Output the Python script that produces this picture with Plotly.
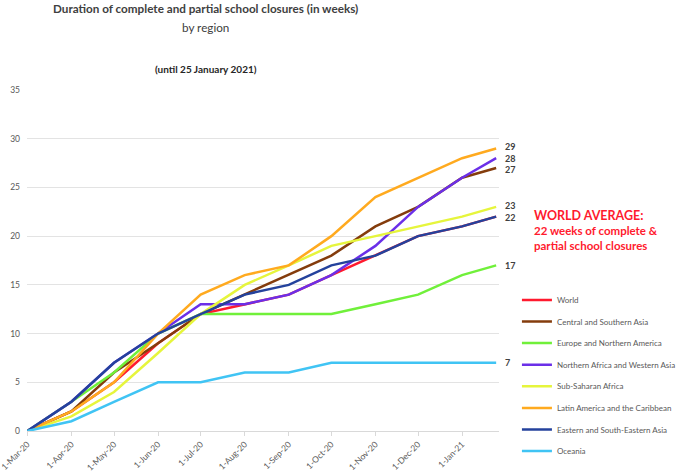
import plotly.graph_objects as go

dates = ['2020-03-01', '2020-04-01', '2020-05-01', '2020-06-01', '2020-07-01',
         '2020-08-01', '2020-09-01', '2020-10-01', '2020-11-01', '2020-12-01',
         '2021-01-01', '2021-01-25']

world = [0, 2, 5, 9, 12, 13, 14, 16, 18, 20, 21, 22]
central_southern_asia = [0, 2, 6, 9, 12, 14, 16, 18, 21, 23, 26, 27]
europe_northern_america = [0, 3, 6, 10, 12, 12, 12, 12, 13, 14, 16, 17]
n_africa_western_asia = [0, 3, 7, 10, 13, 13, 14, 16, 19, 23, 26, 28]
sub_saharan_africa = [0, 1.5, 4, 8, 12, 15, 17, 19, 20, 21, 22, 23]
latin_america = [0, 2, 5, 10, 14, 16, 17, 20, 24, 26, 28, 29]
eastern_se_asia = [0, 3, 7, 10, 12, 14, 15, 17, 18, 20, 21, 22]
oceania = [0, 1, 3, 5, 5, 6, 6, 7, 7, 7, 7, 7]

# name, values, colour, end label shown, small vertical nudge of the label
series = [
    ('World', world, '#FF1A2E', False, 0),
    ('Central and Southern Asia', central_southern_asia, '#843C0C', True, -2),
    ('Europe and Northern America', europe_northern_america, '#70F03A', True, 0),
    ('Northern Africa and Western Asia', n_africa_western_asia, '#6B2FE8', True, 0),
    ('Sub-Saharan Africa', sub_saharan_africa, '#E6F53C', True, 1),
    ('Latin America and the Caribbean', latin_america, '#FFAA1F', True, 2),
    ('Eastern and South-Eastern Asia', eastern_se_asia, '#24429C', True, -1),
    ('Oceania', oceania, '#40C4F4', True, 0),
]

fig = go.Figure()
annotations = []
for name, vals, color, label, nudge in series:
    fig.add_trace(go.Scatter(x=dates, y=vals, mode='lines', name=name,
                             legendgroup=name,
                             line=dict(color=color, width=2.5)))
    if label:
        annotations.append(dict(x=dates[-1], y=vals[-1], xref='x', yref='y',
                                text='<b>%d</b>' % vals[-1], showarrow=False,
                                xanchor='left', xshift=7, yshift=nudge,
                                font=dict(size=9, color='#404040')))

# titles
annotations += [
    dict(x=0.379, y=1.2405, xref='paper', yref='paper', showarrow=False,
         yanchor='middle',
         text='<b>Duration of complete and partial school closures (in weeks)</b>',
         font=dict(size=11.7, color='#404040')),
    dict(x=0.379, y=1.1848, xref='paper', yref='paper', showarrow=False,
         yanchor='middle',
         text='by region', font=dict(size=11.7, color='#404040')),
    dict(x=0.379, y=1.0616, xref='paper', yref='paper', showarrow=False,
         yanchor='middle',
         text='<b>(until 25 January 2021)</b>', font=dict(size=10, color='#262626')),
    dict(x=1.07, y=0.66, xref='paper', yref='paper', showarrow=False,
         xanchor='left', yanchor='top', align='left',
         text='<b><span style="font-size:12.5px">WORLD AVERAGE:</span><br>'
              '22 weeks of complete &<br>partial school closures</b>',
         font=dict(size=11.5, color='#FF1A2E')),
]

fig.update_layout(
    width=685, height=471,
    margin=dict(l=27, r=186, t=90, b=40, autoexpand=False),
    plot_bgcolor='white', paper_bgcolor='white',
    font=dict(family='Lato, sans-serif', color='#595959'),
    showlegend=True,
    legend=dict(x=1.038, y=0.427, xanchor='left', yanchor='top',
                font=dict(size=8, color='#595959'), tracegroupgap=2.6,
                itemwidth=30, bgcolor='rgba(0,0,0,0)'),
    annotations=annotations,
    xaxis=dict(type='date', range=['2020-02-29 18:00', '2021-01-27'],
               tickvals=dates[:-1], tickformat='%-d-%b-%y', tickangle=-45,
               ticklabeloverflow='allow',
               showgrid=False, showline=True, linecolor='#D9D9D9', linewidth=1,
               ticks='outside', ticklen=4, tickcolor='#D9D9D9', automargin=False,
               tickfont=dict(size=8.5, color='#595959')),
    yaxis=dict(range=[0, 35], dtick=5, showgrid=True, gridcolor='#E3E3E3',
               zeroline=False, showline=False, automargin=False,
               ticklabelstandoff=6,
               tickfont=dict(size=8.5, color='#595959')),
)

# the page body has a default 8px margin; drop it so the figure fills the window
fig.write_html('out.html', config={'displayModeBar': False},
               post_script="document.body.style.margin = '0';")
